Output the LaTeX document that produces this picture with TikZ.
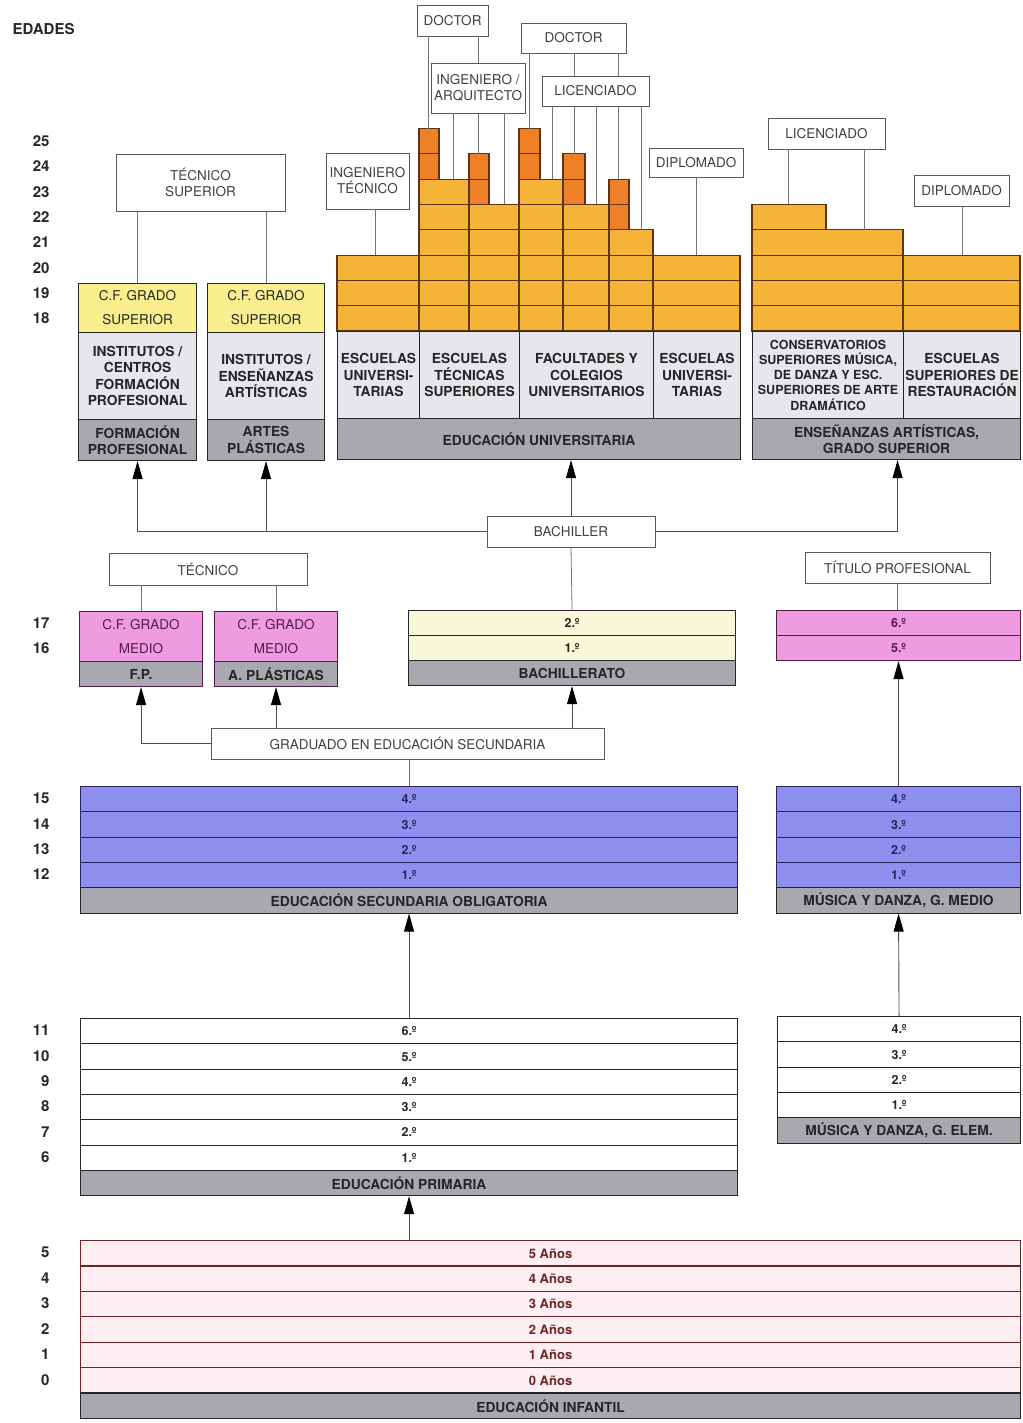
\documentclass[tikz,border=0pt]{standalone}
\usepackage{fontspec}
\setmainfont{TeX Gyre Heros}
\usetikzlibrary{arrows.meta,positioning}

\definecolor{grisclaro}{HTML}{E7E6EB}
\definecolor{grisosc}{HTML}{A9A8AE}
\definecolor{amarillo}{HTML}{F9EE8E}
\definecolor{naranja}{HTML}{F5B437}
\definecolor{naranjaosc}{HTML}{EE8027}
\definecolor{marron}{HTML}{5E3414}
\definecolor{rosa}{HTML}{EF9BDF}
\definecolor{morado}{HTML}{4F1D4A}
\definecolor{crema}{HTML}{F8F8D9}
\definecolor{azul}{HTML}{8E8FEE}
\definecolor{azulosc}{HTML}{26265A}
\definecolor{rosapal}{HTML}{FCEEF1}
\definecolor{granate}{HTML}{6E2424}

\newcommand{\titulos}{\fontsize{13.5}{16}\selectfont}
\newcommand{\negrita}{\fontsize{13.8}{16.5}\selectfont\bfseries}
\newcommand{\curso}{\fontsize{12.5}{13}\selectfont\bfseries}
\newcommand{\edadfont}{\fontsize{15}{15}\selectfont\bfseries}

\tikzset{
  caja/.style={draw=black!65, line width=0.8pt, fill=white, inner sep=0pt, align=center, text=black!75, font=\titulos},
  bloque/.style={draw=black!85, line width=1.1pt, inner sep=0pt, anchor=north west, align=center, text=black!85, font=\negrita},
  fila/.style={bloque, minimum height=25.3pt, font=\curso},
  gris/.style={bloque, fill=grisosc},
  claro/.style={bloque, fill=grisclaro, minimum height=87pt},
  cfgrado/.style={bloque, minimum height=49pt, font=\fontsize{13.5}{24}\selectfont},
  linea/.style={draw=black!55, line width=0.8pt},
  flecha/.style={draw=black!70, line width=0.9pt, -{Triangle[length=18pt,width=10pt,color=black]}},
  edad/.style={anchor=east, font=\edadfont, text=black!85},
  celda/.style={draw=marron, line width=1.1pt, fill=naranja},
  celdaosc/.style={celda, fill=naranjaosc},
}

\begin{document}
\begin{tikzpicture}[x=1pt, y=-1pt]
  \useasboundingbox (0,0) rectangle (1022,1423);

  % Edades
  \node[anchor=west, font=\edadfont, text=black!85] (edades) at (9,29) {EDADES};
  \foreach \a in {18,...,25} \node[edad] (e\a) at (53,{343.65-25.3*(\a-17)}) {\a};
  \foreach \a/\y in {17/623.5, 16/648.5} \node[edad] (e\a) at (53,\y) {\a};
  \foreach \a in {12,...,15} \node[edad] (e\a) at (53,{798.65+25.3*(15-\a)}) {\a};
  \foreach \a in {6,...,11} \node[edad] (e\a) at (53,{1030.65+25.3*(11-\a)}) {\a};
  \foreach \a in {0,...,5} \node[edad] (e\a) at (53,{1252.7+25.4*(5-\a)}) {\a};

  % Cursos universitarios
  \foreach \xa/\xb/\desde/\hasta in {337/419/18/20, 419/469/18/23, 469/519/18/22, 519/563/18/23, 563/609/18/22, 609/653/18/21, 653/740/18/20, 752/903/18/21, 752/826/22/22, 903/1020/18/20}
    \foreach \a in {\desde,...,\hasta}
      \draw[celda] (\xa,{331-25.3*(\a-17)}) rectangle (\xb,{331-25.3*(\a-18)});
  \foreach \xa/\xb/\desde/\hasta in {419/439/24/25, 469/489/23/24, 519/540/24/25, 563/585/23/24, 609/629/22/23}
    \foreach \a in {\desde,...,\hasta}
      \draw[celdaosc] (\xa,{331-25.3*(\a-17)}) rectangle (\xb,{331-25.3*(\a-18)});

  % Fin de cada carrera
  \foreach \nom/\x/\a in {da/428/25, db/478/24, ia/453/23, ib/504/22, dc/529/25, dd/574/24, de/618/23, la/552/23, lb/596/22, lc/641/21, it/375/20, dp/696/20, lx/788/22, ly/864/21, dq/962/20}
    \coordinate (\nom) at (\x,{331-25.3*(\a-17)});

  % Titulos
  \node[caja, minimum width=71pt, minimum height=31pt] (doctorA) at (452.5,20.5) {DOCTOR};
  \node[caja, minimum width=105pt, minimum height=30pt] (doctorB) at (573.5,38) {DOCTOR};
  \foreach \c in {da,db} \draw[linea] (doctorA.south -| \c) -- (\c);
  \foreach \c in {dc,dd,de} \draw[linea] (doctorB.south -| \c) -- (\c);
  \node[caja, minimum width=94pt, minimum height=50pt] (ingarq) at (478,88) {INGENIERO /\\ARQUITECTO};
  \node[caja, minimum width=107pt, minimum height=30pt] (licA) at (595.5,91) {LICENCIADO};
  \foreach \c in {ia,ib} \draw[linea] (ingarq.south -| \c) -- (\c);
  \foreach \c in {la,lb,lc} \draw[linea] (licA.south -| \c) -- (\c);
  \node[caja, minimum width=83pt, minimum height=56pt] (ingtec) at (367.5,181) {INGENIERO\\TÉCNICO};
  \node[caja, minimum width=94pt, minimum height=29pt] (diplA) at (696,162.5) {DIPLOMADO};
  \node[caja, minimum width=117pt, minimum height=31pt] (licB) at (826.5,133.5) {LICENCIADO};
  \node[caja, minimum width=95pt, minimum height=31pt] (diplB) at (961.5,190.5) {DIPLOMADO};
  \draw[linea] (ingtec.south -| it) -- (it);
  \draw[linea] (diplA.south -| dp) -- (dp);
  \foreach \c in {lx,ly} \draw[linea] (licB.south -| \c) -- (\c);
  \draw[linea] (diplB.south -| dq) -- (dq);

  % Formacion profesional y artes plasticas, grado superior
  \node[cfgrado, fill=amarillo, minimum width=118pt] (fpsup) at (78,283) {C.F. GRADO\\SUPERIOR};
  \node[claro, minimum width=118pt] (fpcen) at (78,332) {INSTITUTOS /\\CENTROS\\FORMACIÓN\\PROFESIONAL};
  \node[gris, minimum width=118pt, minimum height=41pt] (fpgris) at (78,419) {FORMACIÓN\\PROFESIONAL};
  \node[cfgrado, fill=amarillo, minimum width=117pt] (apsup) at (207,283) {C.F. GRADO\\SUPERIOR};
  \node[claro, minimum width=117pt] (apcen) at (207,332) {INSTITUTOS /\\ENSEÑANZAS\\ARTÍSTICAS};
  \node[gris, minimum width=117pt, minimum height=41pt] (apgris) at (207,419) {ARTES\\PLÁSTICAS};
  \node[caja, minimum width=169pt, minimum height=57pt] (tsup) at (200.5,182.5) {TÉCNICO\\SUPERIOR};
  \foreach \c in {fpsup,apsup} \draw[linea] (tsup.south -| \c.north) -- (\c.north);

  % Universidad
  \node[claro, minimum width=82pt] (eu1) at (337,331) {ESCUELAS\\UNIVERSI-\\TARIAS};
  \node[claro, minimum width=100pt] (ets) at (419,331) {ESCUELAS\\TÉCNICAS\\SUPERIORES};
  \node[claro, minimum width=134pt] (fac) at (519,331) {FACULTADES Y\\COLEGIOS\\UNIVERSITARIOS};
  \node[claro, minimum width=87pt] (eu2) at (653,331) {ESCUELAS\\UNIVERSI-\\TARIAS};
  \node[gris, minimum width=403pt, minimum height=41pt] (univ) at (337,418) {EDUCACIÓN UNIVERSITARIA};

  % Ensenanzas artisticas
  \node[claro, minimum width=151pt, font=\fontsize{12.5}{15.3}\selectfont\bfseries] (cons) at (752,331) {CONSERVATORIOS\\SUPERIORES MÚSICA,\\DE DANZA Y ESC.\\SUPERIORES DE ARTE\\DRAMÁTICO};
  \node[claro, minimum width=117pt] (rest) at (903,331) {ESCUELAS\\SUPERIORES DE\\RESTAURACIÓN};
  \node[gris, minimum width=268pt, minimum height=41pt] (artgris) at (752,418) {ENSEÑANZAS ARTÍSTICAS,\\GRADO SUPERIOR};

  % Bachiller
  \node[caja, minimum width=168pt, minimum height=31pt] (bachiller) at (571,531.5) {BACHILLER};
  \draw[flecha] (bachiller.west) -| (fpgris.south);
  \draw[flecha] (bachiller.west) -| (apgris.south);
  \draw[flecha] (bachiller.north) -- (bachiller.north |- univ.south);
  \draw[flecha] (bachiller.east) -| ([xshift=11pt]artgris.south);

  % Grado medio
  \node[caja, minimum width=198pt, minimum height=32pt] (tecnico) at (208,569) {TÉCNICO};
  \node[cfgrado, fill=rosa, draw=morado, text=morado, minimum width=123pt, minimum height=50pt] (fpm) at (79,611) {C.F. GRADO\\MEDIO};
  \node[gris, draw=morado, minimum width=123pt, minimum height=25pt] (fpmg) at (79,661) {F.P.};
  \node[cfgrado, fill=rosa, draw=morado, text=morado, minimum width=123pt, minimum height=50pt] (apm) at (214,611) {C.F. GRADO\\MEDIO};
  \node[gris, draw=morado, minimum width=123pt, minimum height=25pt] (apmg) at (214,661) {A. PLÁSTICAS};
  \foreach \c in {fpm,apm} \draw[linea] (tecnico.south -| \c.north) -- (\c.north);

  % Bachillerato
  \node[fila, fill=crema, minimum width=327pt, minimum height=25pt] (bach2) at (408,610) {2.º};
  \node[fila, fill=crema, minimum width=327pt, minimum height=25pt] (bach1) at (408,635) {1.º};
  \node[gris, minimum width=327pt, minimum height=25pt] (bachg) at (408,660) {BACHILLERATO};
  \draw[linea] (bach2.north) -- (bachiller.south);

  % Musica, grado profesional
  \node[caja, minimum width=185pt, minimum height=31pt] (titulo) at (897.5,567.5) {TÍTULO PROFESIONAL};
  \node[fila, fill=rosa, draw=morado, text=morado, minimum width=244pt, minimum height=25pt] (mus6) at (776,610) {6.º};
  \node[fila, fill=rosa, draw=morado, text=morado, minimum width=244pt, minimum height=25pt] (mus5) at (776,635) {5.º};
  \draw[linea] (titulo.south) -- (titulo.south |- mus6.north);

  % Graduado
  \node[caja, minimum width=393pt, minimum height=31pt] (graduado) at (407.5,743.5) {GRADUADO EN EDUCACIÓN SECUNDARIA};
  \draw[flecha] (graduado.west) -| (fpmg.south);
  \draw[flecha] (graduado.north -| apmg.south) -- (apmg.south);
  \draw[flecha] (graduado.north -| bachg.south) -- (bachg.south);

  % ESO y grado medio de musica
  \foreach \i/\c in {0/4,1/3,2/2,3/1} {
    \node[fila, fill=azul, draw=azulosc, text=azulosc, minimum width=657pt] (eso\c) at (80,{786+25.3*\i}) {\c.º};
    \node[fila, fill=azul, draw=azulosc, text=azulosc, minimum width=244pt] (gm\c) at (776,{786+25.3*\i}) {\c.º};
  }
  \node[gris, minimum width=657pt, minimum height=25.3pt] (esog) at (80,887.2) {EDUCACIÓN SECUNDARIA OBLIGATORIA};
  \node[gris, minimum width=244pt, minimum height=25.3pt] (gmg) at (776,887.2) {MÚSICA Y DANZA, G. MEDIO};
  \draw[linea] (eso4.north) -- (eso4.north |- graduado.south);
  \draw[flecha] (gm4.north) -- (mus5.south);

  % Primaria y grado elemental de musica
  \foreach \i/\c in {0/6,1/5,2/4,3/3,4/2,5/1}
    \node[fila, fill=white, minimum width=657pt] (prim\c) at (80,{1018+25.3*\i}) {\c.º};
  \node[gris, minimum width=657pt, minimum height=25.3pt] (primg) at (80,1169.8) {EDUCACIÓN PRIMARIA};
  \foreach \i/\c in {0/4,1/3,2/2,3/1}
    \node[fila, fill=white, minimum width=243pt] (ge\c) at (777,{1016+25.3*\i}) {\c.º};
  \node[gris, minimum width=243pt, minimum height=25.3pt] (geg) at (777,1117.2) {MÚSICA Y DANZA, G. ELEM.};
  \draw[flecha] (prim6.north) -- (esog.south);
  \draw[flecha] (ge4.north) -- (gmg.south);

  % Infantil
  \foreach \i/\c in {0/5,1/4,2/3,3/2,4/1,5/0}
    \node[fila, fill=rosapal, draw=granate, text=granate, minimum width=940pt, minimum height=25.4pt, font=\fontsize{13}{13}\selectfont\bfseries] (inf\c) at (80,{1240+25.4*\i}) {\c{} Años};
  \node[gris, minimum width=940pt, minimum height=25.6pt] (infg) at (80,1392.4) {EDUCACIÓN INFANTIL};
  \draw[flecha] (inf5.north -| primg.south) -- (primg.south);
\end{tikzpicture}
\end{document}
